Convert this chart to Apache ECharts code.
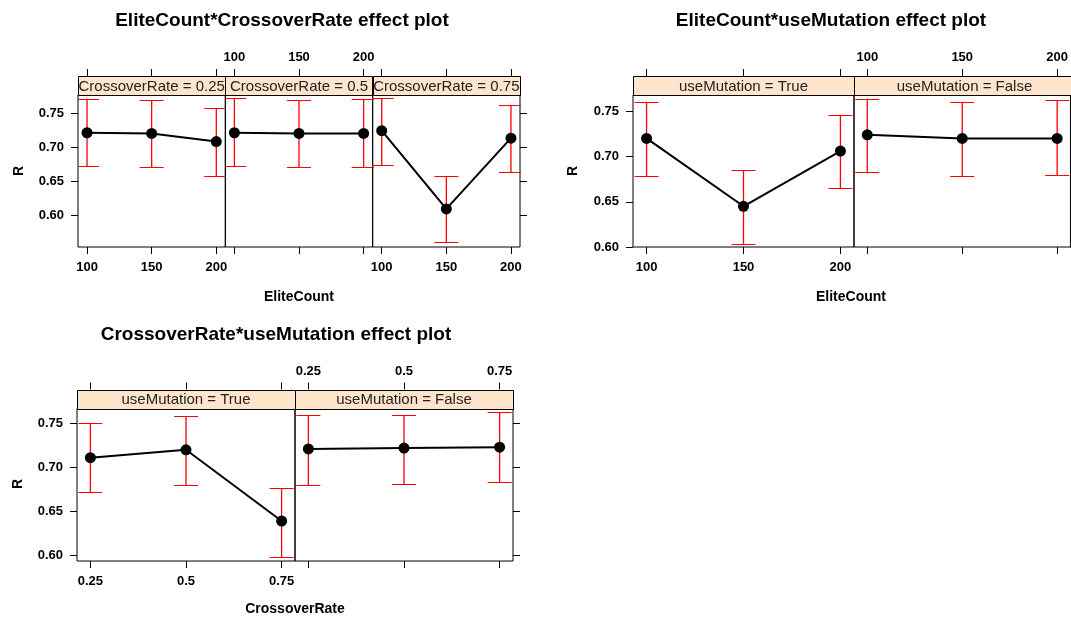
<!DOCTYPE html>
<html>
<head>
<meta charset="utf-8">
<script src="https://cdn.jsdelivr.net/npm/echarts@6/dist/echarts.min.js"></script>
<style>
html,body{margin:0;padding:0;background:#fff;}
#chart{width:1071px;height:618px;}
</style>
</head>
<body>
<div id="chart"></div>
<script>
// ---------- data ----------
const eliteCount = [100, 150, 200];
const crossoverRate = [0.25, 0.5, 0.75];
const yTicks = [0.60, 0.65, 0.70, 0.75];
const eliteTicks = [100, 150, 200];
const crossTicks = [0.25, 0.5, 0.75];

// EliteCount*CrossoverRate
const ecCr025Fit = [0.721, 0.720, 0.708];
const ecCr025Lo  = [0.672, 0.670, 0.657];
const ecCr025Hi  = [0.770, 0.769, 0.757];
const ecCr05Fit  = [0.721, 0.720, 0.720];
const ecCr05Lo   = [0.672, 0.670, 0.670];
const ecCr05Hi   = [0.772, 0.769, 0.770];
const ecCr075Fit = [0.724, 0.609, 0.713];
const ecCr075Lo  = [0.673, 0.560, 0.663];
const ecCr075Hi  = [0.772, 0.657, 0.762];
// EliteCount*useMutation
const ecMutTrueFit  = [0.720, 0.645, 0.706];
const ecMutTrueLo   = [0.678, 0.603, 0.665];
const ecMutTrueHi   = [0.760, 0.685, 0.746];
const ecMutFalseFit = [0.724, 0.720, 0.720];
const ecMutFalseLo  = [0.683, 0.679, 0.680];
const ecMutFalseHi  = [0.764, 0.760, 0.762];
// CrossoverRate*useMutation
const crMutTrueFit  = [0.711, 0.720, 0.639];
const crMutTrueLo   = [0.672, 0.680, 0.598];
const crMutTrueHi   = [0.751, 0.759, 0.677];
const crMutFalseFit = [0.721, 0.722, 0.723];
const crMutFalseLo  = [0.680, 0.681, 0.683];
const crMutFalseHi  = [0.760, 0.760, 0.763];

// ---------- layout ----------
const FONT = '"Liberation Sans", Arial, sans-serif';
const STRIP = 19;
const pwA = 442 / 3;
const panels = [
  {left: 78, top: 95, w: pwA, h: 152, xMin: 93, xMax: 207, yMin: 0.553, yMax: 0.7765,
   x: eliteCount, fit: ecCr025Fit, lo: ecCr025Lo, hi: ecCr025Hi, strip: 'CrossoverRate = 0.25',
   ticks: eliteTicks, bottomLab: true, topLab: false, leftAx: true, rightAx: false},
  {left: 78 + pwA, top: 95, w: pwA, h: 152, xMin: 93, xMax: 207, yMin: 0.553, yMax: 0.7765,
   x: eliteCount, fit: ecCr05Fit, lo: ecCr05Lo, hi: ecCr05Hi, strip: 'CrossoverRate = 0.5',
   ticks: eliteTicks, bottomLab: false, topLab: true, leftAx: false, rightAx: false},
  {left: 78 + 2 * pwA, top: 95, w: pwA, h: 152, xMin: 93, xMax: 207, yMin: 0.553, yMax: 0.7765,
   x: eliteCount, fit: ecCr075Fit, lo: ecCr075Lo, hi: ecCr075Hi, strip: 'CrossoverRate = 0.75',
   ticks: eliteTicks, bottomLab: true, topLab: false, leftAx: false, rightAx: true},
  {left: 633, top: 95, w: 221, h: 152, xMin: 93, xMax: 207, yMin: 0.60, yMax: 0.768,
   x: eliteCount, fit: ecMutTrueFit, lo: ecMutTrueLo, hi: ecMutTrueHi, strip: 'useMutation = True',
   ticks: eliteTicks, bottomLab: true, topLab: false, leftAx: true, rightAx: false},
  {left: 854, top: 95, w: 221, h: 152, xMin: 93, xMax: 207, yMin: 0.60, yMax: 0.768,
   x: eliteCount, fit: ecMutFalseFit, lo: ecMutFalseLo, hi: ecMutFalseHi, strip: 'useMutation = False',
   ticks: eliteTicks, bottomLab: false, topLab: true, leftAx: false, rightAx: true},
  {left: 77, top: 408.5, w: 218, h: 152.5, xMin: 0.215, xMax: 0.785, yMin: 0.5935, yMax: 0.767,
   x: crossoverRate, fit: crMutTrueFit, lo: crMutTrueLo, hi: crMutTrueHi, strip: 'useMutation = True',
   ticks: crossTicks, bottomLab: true, topLab: false, leftAx: true, rightAx: false},
  {left: 295, top: 408.5, w: 218, h: 152.5, xMin: 0.215, xMax: 0.785, yMin: 0.5935, yMax: 0.767,
   x: crossoverRate, fit: crMutFalseFit, lo: crMutFalseLo, hi: crMutFalseHi, strip: 'useMutation = False',
   ticks: crossTicks, bottomLab: false, topLab: true, leftAx: false, rightAx: true}
];

const labelStyle = {fontFamily: FONT, fontWeight: 'bold', fontSize: 13, color: '#000'};
const tickStyle = {color: '#000', width: 1};

const grid = [], xAxis = [], yAxis = [], series = [], graphic = [];

function errRender(params, api) {
  const xv = api.value(0), lo = api.value(1), hi = api.value(2);
  const pLo = api.coord([xv, lo]);
  const pHi = api.coord([xv, hi]);
  const cx = pLo[0];
  const yl = Math.round(pLo[1]) + 0.5;
  const yh = Math.round(pHi[1]) + 0.5;
  const cap = 12;
  const mk = (w) => ({stroke: '#ff0000', lineWidth: w, fill: null});
  return {
    type: 'group',
    children: [
      {type: 'line', shape: {x1: cx, y1: yh, x2: cx, y2: yl}, style: mk(1.3)},
      {type: 'line', shape: {x1: cx - cap, y1: yh, x2: cx + cap, y2: yh}, style: mk(1)},
      {type: 'line', shape: {x1: cx - cap, y1: yl, x2: cx + cap, y2: yl}, style: mk(1)}
    ]
  };
}

panels.forEach((p, i) => {
  grid.push({left: p.left, top: p.top, width: p.w, height: p.h, show: true,
             borderColor: '#000', borderWidth: 1, backgroundColor: 'transparent', containLabel: false});
  const baseX = {gridIndex: i, type: 'value', min: p.xMin, max: p.xMax,
                 axisLine: {show: false}, splitLine: {show: false}};
  xAxis.push(Object.assign({}, baseX, {position: 'bottom',
    axisTick: {show: true, length: 7, lineStyle: tickStyle, customValues: p.ticks},
    axisLabel: Object.assign({show: p.bottomLab, margin: 14, customValues: p.ticks}, labelStyle)}));
  xAxis.push(Object.assign({}, baseX, {position: 'top', offset: STRIP,
    axisTick: {show: true, length: 7, lineStyle: tickStyle, customValues: p.ticks},
    axisLabel: Object.assign({show: p.topLab, margin: 12, customValues: p.ticks}, labelStyle)}));
  const baseY = {gridIndex: i, type: 'value', min: p.yMin, max: p.yMax,
                 axisLine: {show: false}, splitLine: {show: false}};
  yAxis.push(Object.assign({}, baseY, {position: 'left',
    axisTick: {show: p.leftAx, length: 7, lineStyle: tickStyle, customValues: yTicks},
    axisLabel: Object.assign({show: p.leftAx, margin: 14, customValues: yTicks,
      formatter: v => Number(v).toFixed(2)}, labelStyle)}));
  yAxis.push(Object.assign({}, baseY, {position: 'right',
    axisTick: {show: p.rightAx, length: 7, lineStyle: tickStyle, customValues: yTicks},
    axisLabel: {show: false}}));

  series.push({
    type: 'custom', xAxisIndex: 2 * i, yAxisIndex: 2 * i, clip: true, z: 2,
    renderItem: errRender,
    itemStyle: {color: '#ff0000'},
    data: p.x.map((xv, k) => [xv, p.lo[k], p.hi[k]])
  });
  series.push({
    type: 'line', xAxisIndex: 2 * i, yAxisIndex: 2 * i, z: 3,
    symbol: 'circle', symbolSize: 11, showSymbol: true,
    itemStyle: {color: '#000'}, lineStyle: {color: '#000', width: 2},
    data: p.x.map((xv, k) => [xv, p.fit[k]])
  });

  graphic.push({type: 'rect', z: 10,
    shape: {x: Math.round(p.left) + 0.5, y: Math.round(p.top - STRIP) + 0.5, width: Math.round(p.w), height: STRIP},
    style: {fill: '#FFE5CC', stroke: '#000', lineWidth: 1}});
  graphic.push({type: 'text', z: 11, x: p.left + p.w / 2, y: p.top - STRIP / 2 + 1,
    style: {text: p.strip, fontFamily: FONT, fontSize: 15, fill: '#222',
            align: 'center', verticalAlign: 'middle'}});
});

function txt(text, x, y, size, rot) {
  return {type: 'text', z: 12, x: x, y: y, rotation: rot || 0,
    style: {text: text, fontFamily: FONT, fontWeight: 'bold', fontSize: size, fill: '#000',
            align: 'center', verticalAlign: 'middle'}};
}
graphic.push(txt('EliteCount*CrossoverRate effect plot', 282, 21, 19));
graphic.push(txt('EliteCount*useMutation effect plot', 831, 21, 19));
graphic.push(txt('CrossoverRate*useMutation effect plot', 276, 335, 19));
graphic.push(txt('EliteCount', 299, 297, 14));
graphic.push(txt('EliteCount', 851, 297, 14));
graphic.push(txt('CrossoverRate', 295, 609, 14));
graphic.push(txt('R', 19, 171, 14, Math.PI / 2));
graphic.push(txt('R', 573, 171, 14, Math.PI / 2));
graphic.push(txt('R', 18, 484, 14, Math.PI / 2));

const chart = echarts.init(document.getElementById('chart'), null, {renderer: 'canvas'});
chart.setOption({
  animation: false,
  backgroundColor: '#fff',
  grid: grid, xAxis: xAxis, yAxis: yAxis, series: series, graphic: graphic
});
</script>
</body>
</html>
